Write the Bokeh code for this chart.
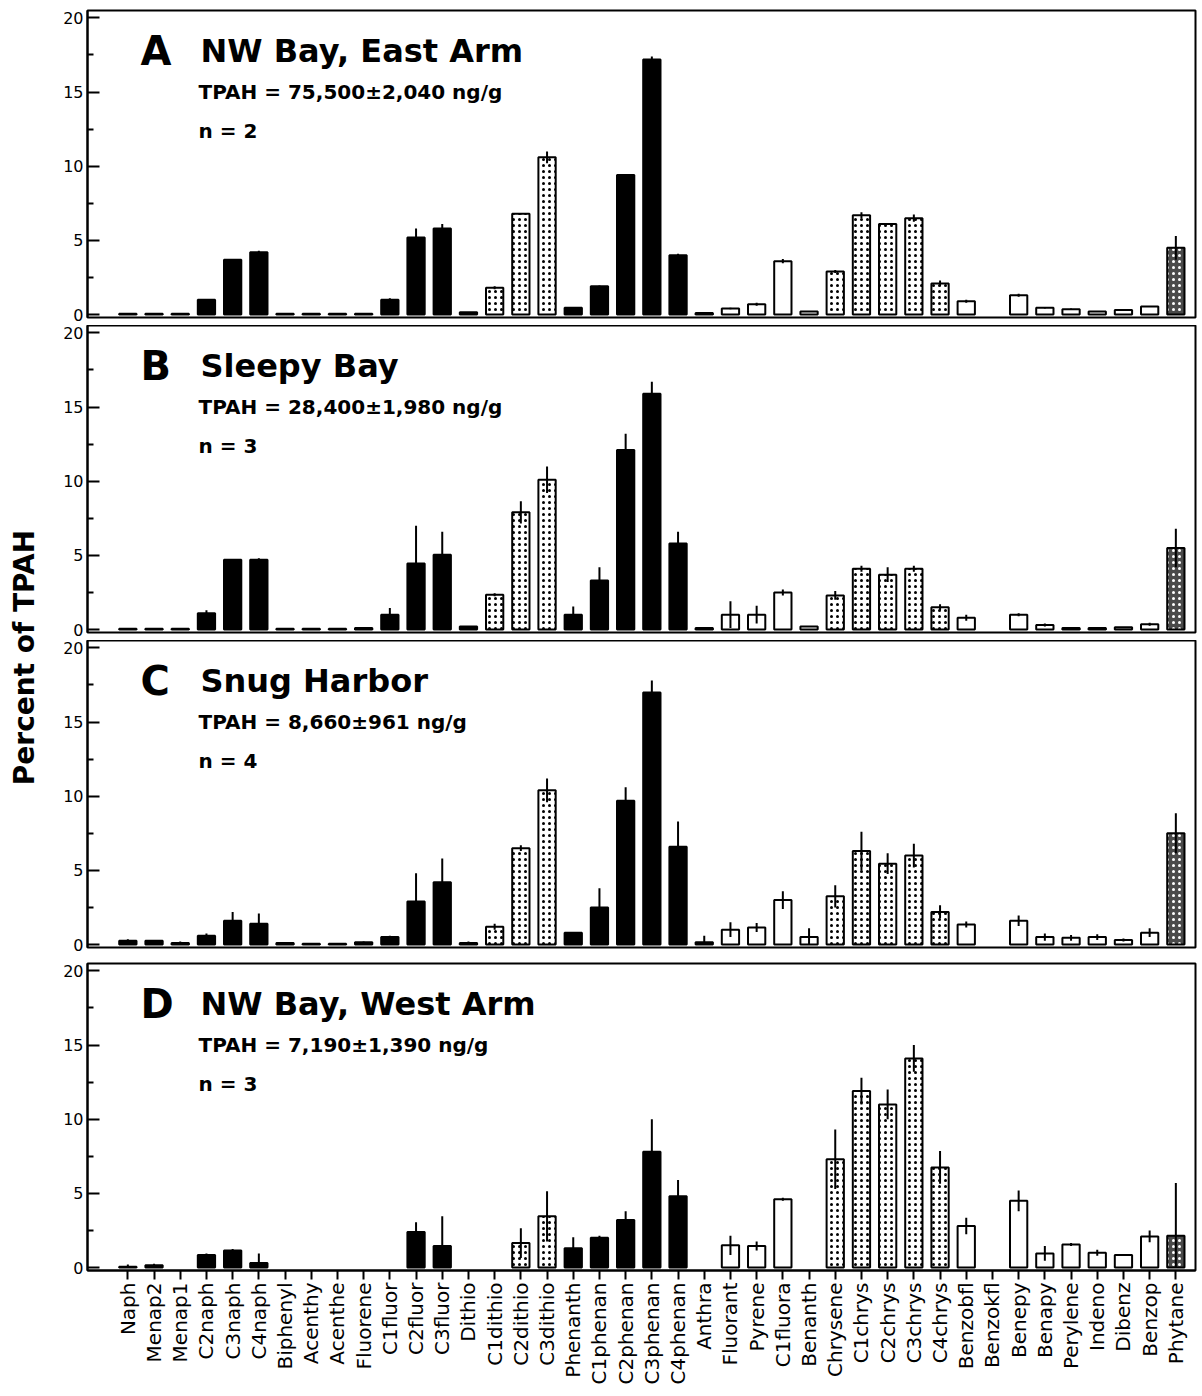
import numpy as np
from bokeh.plotting import figure
from bokeh.models import ColumnDataSource, Range1d, FixedTicker, Label
from bokeh.layouts import row, column
from bokeh.embed import file_html
from bokeh.resources import INLINE

# ---------------- data ----------------
categories = ["Naph", "Menap2", "Menap1", "C2naph", "C3naph", "C4naph", "Biphenyl",
              "Acenthy", "Acenthe", "Fluorene", "C1fluor", "C2fluor", "C3fluor", "Dithio",
              "C1dithio", "C2dithio", "C3dithio", "Phenanth", "C1phenan", "C2phenan",
              "C3phenan", "C4phenan", "Anthra", "Fluorant", "Pyrene", "C1fluora", "Benanth",
              "Chrysene", "C1chrys", "C2chrys", "C3chrys", "C4chrys", "Benzobfl", "Benzokfl",
              "Benepy", "Benapy", "Perylene", "Indeno", "Dibenz", "Benzop", "Phytane"]

# compound class of each category (drives the fill)
groups = (["solid"] * 14 + ["stipple"] * 3 + ["solid"] * 6 + ["open"] * 4 +
          ["stipple"] * 5 + ["open"] * 8 + ["dense"])

panel_letters = ["A", "B", "C", "D"]
panel_sites = ["NW Bay, East Arm", "Sleepy Bay", "Snug Harbor", "NW Bay, West Arm"]
panel_tpah = ["TPAH = 75,500±2,040 ng/g", "TPAH = 28,400±1,980 ng/g",
              "TPAH = 8,660±961 ng/g", "TPAH = 7,190±1,390 ng/g"]
panel_n = ["n = 2", "n = 3", "n = 4", "n = 3"]

vals_A = [0.05, 0.05, 0.05, 1.0, 3.7, 4.2, 0.05, 0.05, 0.05, 0.05, 1.0, 5.2, 5.8, 0.15,
          1.8, 6.8, 10.6, 0.45, 1.9, 9.4, 17.2, 4.0, 0.1, 0.4, 0.7, 3.6, 0.2,
          2.9, 6.7, 6.1, 6.5, 2.1, 0.9, 0.0, 1.3, 0.45, 0.35, 0.2, 0.3, 0.55, 4.5]
err_A = [0, 0, 0, 0.05, 0.05, 0.1, 0, 0, 0, 0, 0.1, 0.6, 0.3, 0,
         0.1, 0.05, 0.4, 0.05, 0.05, 0.05, 0.2, 0.1, 0, 0.05, 0.1, 0.15, 0,
         0.1, 0.2, 0.05, 0.25, 0.2, 0.1, 0, 0.1, 0.05, 0.05, 0, 0, 0, 0.8]

vals_B = [0.05, 0.05, 0.05, 1.1, 4.7, 4.7, 0.05, 0.05, 0.05, 0.1, 1.0, 4.45, 5.05, 0.2,
          2.35, 7.9, 10.1, 1.0, 3.3, 12.1, 15.9, 5.8, 0.1, 1.0, 1.0, 2.5, 0.2,
          2.3, 4.1, 3.7, 4.1, 1.5, 0.8, 0.0, 1.0, 0.3, 0.1, 0.1, 0.15, 0.35, 5.5]
err_B = [0, 0, 0, 0.2, 0.05, 0.1, 0, 0, 0, 0, 0.45, 2.55, 1.55, 0,
         0.1, 0.75, 0.9, 0.55, 0.9, 1.1, 0.8, 0.8, 0, 0.9, 0.6, 0.2, 0,
         0.3, 0.2, 0.5, 0.2, 0.2, 0.2, 0, 0.1, 0.1, 0, 0, 0, 0.1, 1.3]

vals_C = [0.25, 0.25, 0.1, 0.6, 1.6, 1.4, 0.1, 0.05, 0.05, 0.15, 0.5, 2.9, 4.2, 0.1,
          1.2, 6.5, 10.4, 0.8, 2.5, 9.7, 17.0, 6.6, 0.15, 1.0, 1.15, 3.0, 0.5,
          3.25, 6.3, 5.45, 6.0, 2.2, 1.35, 0.0, 1.6, 0.5, 0.45, 0.5, 0.3, 0.8, 7.5]
err_C = [0.1, 0.05, 0.1, 0.15, 0.6, 0.7, 0.05, 0, 0, 0.05, 0.1, 1.9, 1.6, 0.1,
         0.2, 0.2, 0.8, 0.05, 1.3, 0.9, 0.8, 1.7, 0.45, 0.5, 0.3, 0.6, 0.6,
         0.75, 1.3, 0.7, 0.8, 0.45, 0.2, 0, 0.35, 0.25, 0.2, 0.2, 0.1, 0.3, 1.35]

vals_D = [0.05, 0.15, 0.0, 0.85, 1.15, 0.3, 0.0, 0.0, 0.0, 0.0, 0.0, 2.4, 1.45, 0.0,
          0.0, 1.65, 3.45, 1.3, 2.0, 3.2, 7.8, 4.8, 0.0, 1.5, 1.45, 4.6, 0.0,
          7.3, 11.9, 11.0, 14.1, 6.75, 2.8, 0.0, 4.5, 0.95, 1.55, 1.0, 0.85, 2.1, 2.15]
err_D = [0.15, 0.1, 0, 0.1, 0.1, 0.65, 0, 0, 0, 0, 0, 0.65, 2.0, 0,
         0, 1.0, 1.7, 0.75, 0.15, 0.6, 2.2, 1.1, 0, 0.65, 0.3, 0.1, 0,
         2.0, 0.9, 1.0, 0.9, 1.1, 0.55, 0, 0.7, 0.5, 0.1, 0.2, 0.05, 0.4, 3.55]

panel_vals = [vals_A, vals_B, vals_C, vals_D]
panel_errs = [err_A, err_B, err_C, err_D]

y_ticks = [0, 5, 10, 15, 20]
y_minor = [2.5, 7.5, 12.5, 17.5]

# ---------------- styling ----------------
FONT = "DejaVu Sans"
fill_map = {"solid": "black", "stipple": "white", "open": "white", "dense": "#4a4a4a"}
hatch_map = {"solid": "blank", "stipple": "dot", "open": "blank", "dense": "dot"}
hcolor_map = {"solid": "black", "stipple": "black", "open": "black", "dense": "white"}

FIG_W = 1151
X_RANGE = (-1.54, 40.75)
Y_RANGE = (-0.2, 20.5)
# (border_top, border_bottom) of each panel
BORDERS = [(10, 8), (0, 8), (0, 8), (8, 120)]
FRAME_H = 307

x_idx = np.arange(len(categories))
groups_arr = np.array(groups)


def make_panel(i, last):
    vals = np.array(panel_vals[i], dtype=float)
    errs = np.array(panel_errs[i], dtype=float)
    bt, bb = BORDERS[i]
    p = figure(width=FIG_W, height=bt + FRAME_H + bb,
               x_range=Range1d(*X_RANGE), y_range=Range1d(*Y_RANGE),
               output_backend="svg", toolbar_location=None,
               x_axis_location="below" if last else None,
               min_border_left=39, min_border_right=4,
               min_border_top=bt, min_border_bottom=bb)
    p.xgrid.visible = False
    p.ygrid.visible = False
    p.outline_line_color = "black"
    p.outline_line_width = 2
    p.outline_line_alpha = 1.0
    p.background_fill_color = "white"
    p.border_fill_color = "white"

    nz = vals > 0
    g = groups_arr[nz]
    src = ColumnDataSource(dict(
        x=x_idx[nz], top=vals[nz],
        fill=[fill_map[k] for k in g],
        hatch=[hatch_map[k] for k in g],
        hcolor=[hcolor_map[k] for k in g],
    ))
    p.vbar(x="x", top="top", bottom=0, width=0.66, source=src,
           fill_color="fill", line_color="black", line_width=2,
           hatch_pattern="hatch", hatch_color="hcolor",
           hatch_scale=6, hatch_weight=0.9)

    mask = errs > 0
    lo = np.maximum(vals - errs, 0)[mask]
    hi = (vals + errs)[mask]
    p.segment(x0=x_idx[mask], y0=lo, x1=x_idx[mask], y1=hi,
              line_color="black", line_width=2)

    ya = p.yaxis[0]
    ya.ticker = FixedTicker(ticks=y_ticks, minor_ticks=y_minor)
    ya.major_tick_in = 12
    ya.major_tick_out = 0
    ya.minor_tick_in = 6
    ya.minor_tick_out = 0
    ya.axis_line_width = 2
    ya.major_tick_line_width = 2
    ya.minor_tick_line_width = 2
    ya.major_label_text_font = FONT
    ya.major_label_text_font_size = "16px"
    ya.major_label_text_color = "black"
    ya.major_label_standoff = 4

    if last:
        xa = p.xaxis[0]
        xa.ticker = FixedTicker(ticks=list(x_idx))
        xa.major_label_overrides = {int(k): c for k, c in zip(x_idx, categories)}
        xa.major_label_orientation = np.pi / 2
        xa.major_tick_in = 0
        xa.major_tick_out = 9
        xa.major_tick_line_width = 2
        xa.minor_tick_line_color = None
        xa.axis_line_width = 2
        xa.major_label_text_font = FONT
        xa.major_label_text_font_size = "20px"
        xa.major_label_text_color = "black"
        xa.major_label_standoff = 3

    common = dict(text_font=FONT, text_font_style="bold", text_color="black",
                  text_baseline="alphabetic", text_align="left")
    p.add_layout(Label(x=0.48, y=17.8, text=panel_letters[i], text_font_size="40px", **common))
    p.add_layout(Label(x=2.77, y=17.8, text=panel_sites[i], text_font_size="32px", **common))
    p.add_layout(Label(x=2.7, y=15.0, text=panel_tpah[i], text_font_size="20px", **common))
    p.add_layout(Label(x=2.7, y=12.4, text=panel_n[i], text_font_size="20px", **common))
    return p


panels = [make_panel(i, i == 3) for i in range(4)]
total_h = sum(p.height for p in panels)

lab = figure(width=48, height=total_h, x_range=Range1d(0, 48), y_range=Range1d(0, total_h),
             output_backend="svg", toolbar_location=None,
             x_axis_location=None, y_axis_location=None, min_border=0)
lab.grid.visible = False
lab.outline_line_color = None
lab.add_layout(Label(x=24, y=total_h - 657, text="Percent of TPAH", angle=np.pi / 2,
                     text_align="center", text_baseline="middle", text_font=FONT,
                     text_font_size="28px", text_font_style="bold", text_color="black"))

layout = row(lab, column(*panels))

open("out.html", "w").write(file_html(layout, INLINE))
